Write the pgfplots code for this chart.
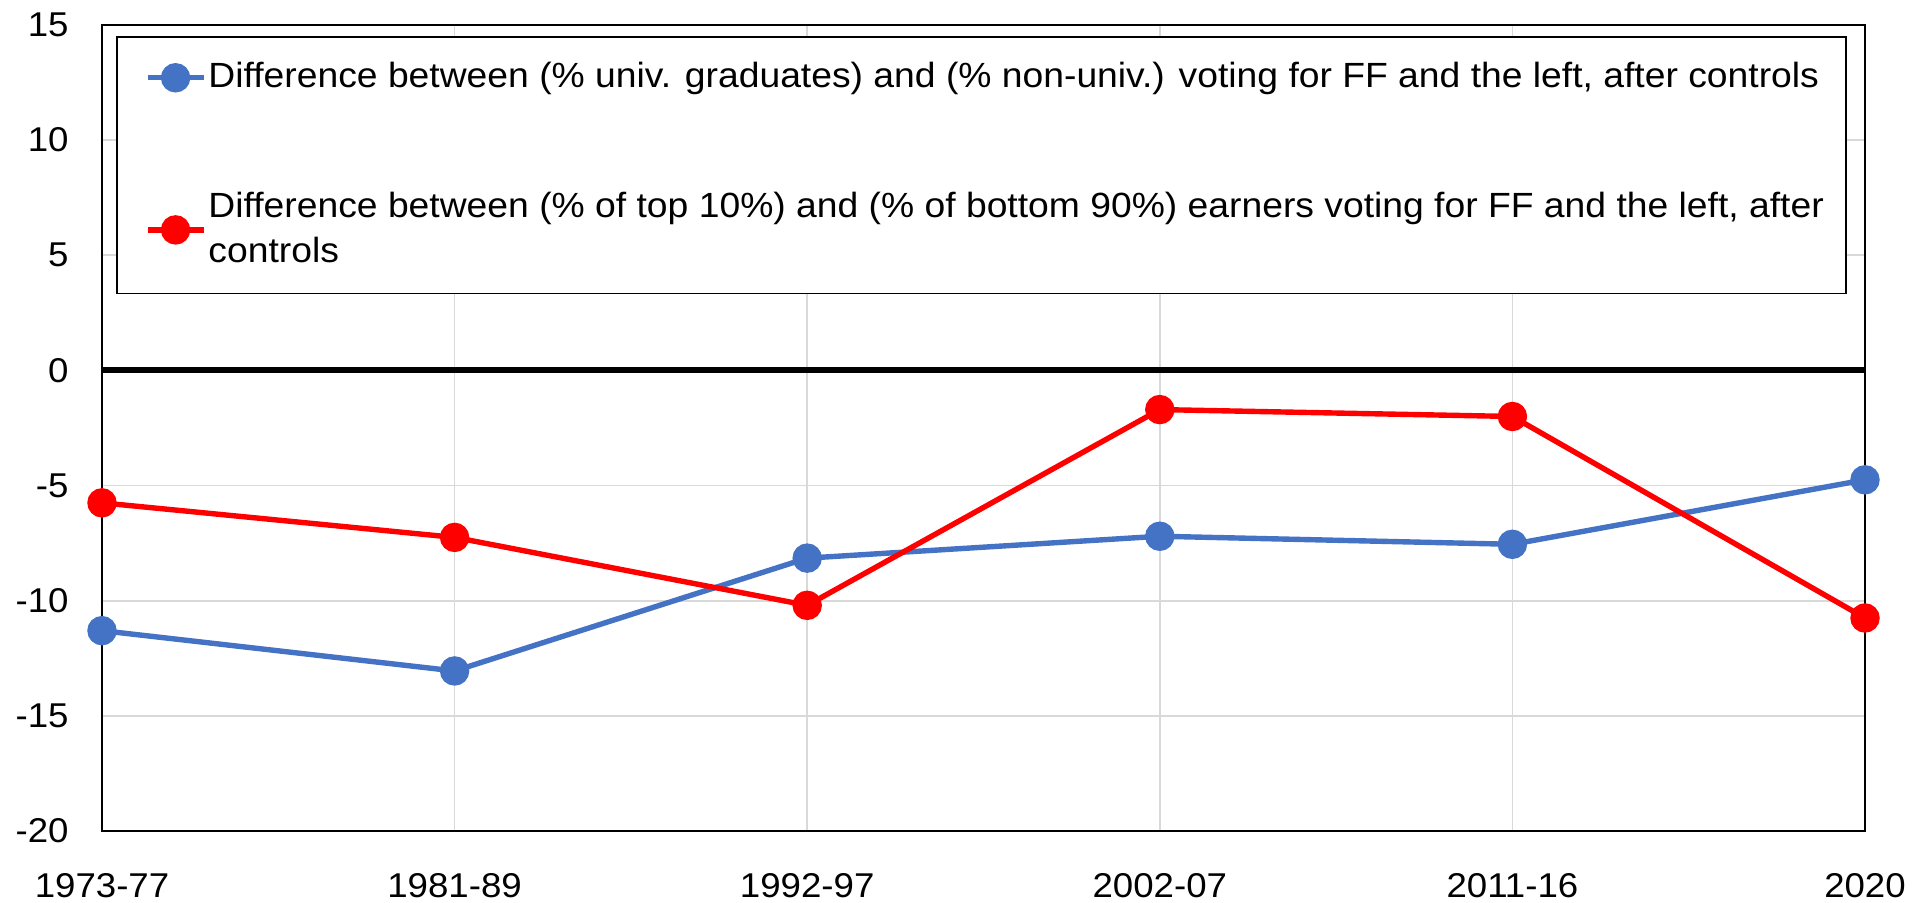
\documentclass[border=0pt]{standalone}
\usepackage{fontspec}
\setmainfont{Liberation Sans}[FakeStretch=1.065]
\usepackage{pgfplots}
\pgfplotsset{compat=1.18}
\definecolor{xblue}{HTML}{4472C4}
\definecolor{xred}{HTML}{FF0000}
\definecolor{xgrid}{HTML}{D9D9D9}
\begin{document}
\fontsize{8.6}{11.25}\selectfont
\begin{tikzpicture}
\path[use as bounding box] (0,0) rectangle (481pt,225.5pt);
\begin{axis}[
  at={(25.5pt,17.75pt)}, anchor=south west,
  scale only axis, width=440.75pt, height=201.5pt,
  xmin=0, xmax=5, ymin=-20, ymax=15,
  xtick={0,1,2,3,4,5},
  xticklabels={1973-77,1981-89,1992-97,2002-07,2011-16,2020},
  ytick={-20,-15,-10,-5,0,5,10,15},
  major tick length=0pt,
  grid=major, grid style={xgrid, line width=0.4pt},
  axis line style={line width=0.45pt},
  /pgf/number format/assume math mode=true,
  tick label style={font=\fontsize{8.6}{10}\selectfont},
  xticklabel style={yshift=-7.5pt},
  yticklabel style={xshift=-5.3pt},
  clip mode=individual,
  legend image code/.code={\path (0pt,0pt); \draw[#1, mark repeat=2, mark phase=2] plot coordinates {(1.5pt,0pt) (8.5pt,0pt) (15.5pt,0pt)};},
  legend style={at={(0.00794,0.98635)}, anchor=north west, draw=black, line width=0.45pt,
    inner xsep=5.5pt, inner ysep=6.4pt, row sep=24.7pt, column sep=0.55pt,
    nodes={inner sep=0pt, align=left, font=\fontsize{8.75}{11.4}\selectfont}},
  legend cell align=left,
]
\addplot[black, line width=1.5pt, forget plot] coordinates {(0,0) (5,0)};
\addplot[xblue, line width=1.35pt, mark=*, mark size=3pt, mark options={solid, fill=xblue, draw=xblue}]
  coordinates {(0,-11.3) (1,-13.05) (2,-8.15) (3,-7.2) (4,-7.55) (5,-4.75)};
\addlegendentry{Difference between (\% univ. graduates) and (\% non-univ.) voting for FF and the left, after controls}
\addplot[xred, line width=1.35pt, mark=*, mark size=3pt, mark options={solid, fill=xred, draw=xred}]
  coordinates {(0,-5.75) (1,-7.25) (2,-10.2) (3,-1.7) (4,-2.0) (5,-10.75)};
\addlegendentry{Difference between (\% of top 10\%) and (\% of bottom 90\%) earners voting for FF and the left, after\\controls}
\end{axis}
\end{tikzpicture}
\end{document}
